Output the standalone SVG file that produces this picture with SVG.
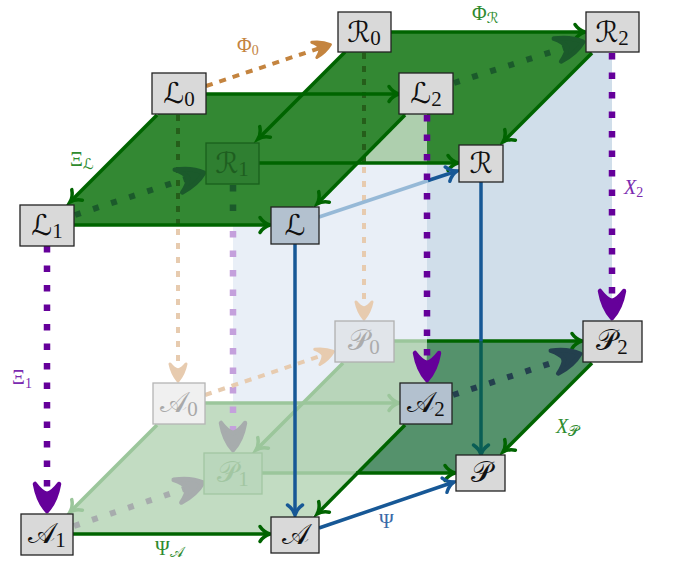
<svg xmlns="http://www.w3.org/2000/svg" width="675" height="561" viewBox="0 0 675 561">
<style>
.box{fill:#d9d9d9;stroke:#222;stroke-width:1.3}
.boxb{fill:#b3c1cf;stroke:#222;stroke-width:1.3}
.t{font-family:'DejaVu Serif','DejaVu Sans','Noto Sans',serif;font-size:29px;fill:#111;text-anchor:middle}
.sub{font-family:'Liberation Serif',serif;font-size:21px;font-style:normal}
.lab{font-family:'Liberation Serif',serif;font-size:20px}
.ls{font-family:'DejaVu Serif','DejaVu Sans',serif;font-size:15px}
.g{fill:none;stroke:#006400;stroke-width:3.5}
.fg{fill:none;stroke:#9bc69b;stroke-width:3.5}
.bl{fill:none;stroke:#175896;stroke-width:3.5}
.pd{fill:none;stroke:#65009a;stroke-width:6.5;stroke-dasharray:6.5 13}
</style>
<defs>
<path id="chev" d="M-10,-7.5 C-7,-3 -3,-0.8 0,0 C-3,0.8 -7,3 -10,7.5" fill="none" stroke-width="3.5" stroke-linecap="round"/>
<path id="stl" d="M0,0 Q-10,-9 -27,-12 Q-19,-6 -17,0 Q-19,6 -27,12 Q-10,9 0,0 Z" stroke-width="4.5" stroke-linejoin="round"/>
<path id="sts" d="M0,0 Q-7,-6 -17,-8 Q-12,-4 -11,0 Q-12,4 -17,8 Q-7,6 0,0 Z" stroke-width="3" stroke-linejoin="round"/>
<marker id="hG" markerUnits="userSpaceOnUse" viewBox="-15 -15 30 30" markerWidth="30" markerHeight="30" refX="0" refY="0" orient="auto"><use href="#chev" stroke="#006400"/></marker>
<marker id="hF" markerUnits="userSpaceOnUse" viewBox="-15 -15 30 30" markerWidth="30" markerHeight="30" refX="0" refY="0" orient="auto"><use href="#chev" stroke="#9bc69b"/></marker>
<marker id="hB" markerUnits="userSpaceOnUse" viewBox="-15 -15 30 30" markerWidth="30" markerHeight="30" refX="0" refY="0" orient="auto"><use href="#chev" stroke="#175896"/></marker>
<marker id="hT" markerUnits="userSpaceOnUse" viewBox="-15 -15 30 30" markerWidth="30" markerHeight="30" refX="0" refY="0" orient="auto"><use href="#chev" stroke="#0a5e55"/></marker>
<marker id="sP" markerUnits="userSpaceOnUse" viewBox="-40 -20 50 40" markerWidth="50" markerHeight="40" refX="-17" refY="0" orient="auto"><use href="#stl" fill="#65009a" stroke="#65009a"/></marker>
<marker id="sG" markerUnits="userSpaceOnUse" viewBox="-40 -20 50 40" markerWidth="50" markerHeight="40" refX="-17" refY="0" orient="auto"><use href="#stl" fill="#1b5a2b" stroke="#1b5a2b"/></marker>
<marker id="sS" markerUnits="userSpaceOnUse" viewBox="-40 -20 50 40" markerWidth="50" markerHeight="40" refX="-17" refY="0" orient="auto"><use href="#stl" fill="#24404e" stroke="#24404e"/></marker>
<marker id="sY" markerUnits="userSpaceOnUse" viewBox="-40 -20 50 40" markerWidth="50" markerHeight="40" refX="-17" refY="0" orient="auto"><use href="#stl" fill="#a7acad" stroke="#a7acad"/></marker>
<marker id="sO" markerUnits="userSpaceOnUse" viewBox="-30 -15 40 30" markerWidth="40" markerHeight="30" refX="-11" refY="0" orient="auto"><use href="#sts" fill="#c4843f" stroke="#c4843f"/></marker>
<marker id="sE" markerUnits="userSpaceOnUse" viewBox="-30 -15 40 30" markerWidth="40" markerHeight="30" refX="-11" refY="0" orient="auto"><use href="#sts" fill="#e7cbaf" stroke="#e7cbaf"/></marker>
</defs>

<g id="planes">
<rect x="233" y="94" width="194" height="309" fill="#e9eff7"/>
<rect x="427" y="32" width="185" height="310" fill="#d0deea"/>
<polygon points="364,32 612,32 481,163 232,163" fill="#338833"/>
<polygon points="426,94 427,94 427,163 357,163" fill="#aecfae"/>
<polygon points="178,94 426,94 295,225 47,225" fill="#338833"/>
<polygon points="178,403 426,403 295,534 47,534" fill="#c2dcc2"/>
<polygon points="364,341 612,341 481,473 232,473" fill="#b8d5ba"/>
<polygon points="427,341 612,341 481,473 356,473 426,403" fill="#55926c"/>
</g>

<g id="connectors">
<path d="M178,115 V225" fill="none" stroke="#255e1a" stroke-width="4" stroke-dasharray="6 7"/>
<path d="M178,229 V370" fill="none" stroke="#e7cbaf" stroke-width="4" stroke-dasharray="6 8" marker-end="url(#sE)"/>
<path d="M364,53 V163" fill="none" stroke="#255e1a" stroke-width="4" stroke-dasharray="6 7"/>
<path d="M364,167 V308" fill="none" stroke="#e7cbaf" stroke-width="4" stroke-dasharray="6 8" marker-end="url(#sE)"/>
<path d="M233,185 V225" fill="none" stroke="#1b5a2b" stroke-width="6.5" stroke-dasharray="6.5 13"/>
<path d="M233,231 V433" fill="none" stroke="#c4a0dc" stroke-width="6.5" stroke-dasharray="6.5 13" marker-end="url(#sY)"/>
<path d="M205,403 H399" class="fg" marker-end="url(#hF)"/>
<path d="M157,425 L70,512" class="fg" marker-end="url(#hF)"/>
<path d="M343,363 L256,450" class="fg" marker-end="url(#hF)"/>
<path d="M262,473 H356" class="fg"/>
<path d="M356,473 H455" class="g" marker-end="url(#hG)"/>
<path d="M393,341 H427" class="fg"/>
<path d="M427,341 H582" class="g" marker-end="url(#hG)"/>
<path d="M205,395 L323,355" fill="none" stroke="#e7cbaf" stroke-width="4" stroke-dasharray="7 7" marker-end="url(#sE)"/>
<path d="M74,526 L187,488" fill="none" stroke="#a7acad" stroke-width="6" stroke-dasharray="6 13" marker-end="url(#sY)"/>
<path d="M453,395 L564,359" fill="none" stroke="#24404e" stroke-width="6" stroke-dasharray="6 13" marker-end="url(#sS)"/>
<path d="M206,94 H399" class="g" marker-end="url(#hG)"/>
<path d="M391,32 H585" class="g" marker-end="url(#hG)"/>
<path d="M74,225 H270" class="g" marker-end="url(#hG)"/>
<path d="M259,163 H458" class="g" marker-end="url(#hG)"/>
<path d="M345,52 L258,139" class="g" marker-end="url(#hG)"/>
<path d="M157,115 L70,202" class="g" marker-end="url(#hG)"/>
<path d="M405,115 L317,204" class="g" marker-end="url(#hG)"/>
<path d="M592,53 L503,142" class="g" marker-end="url(#hG)"/>
<path d="M73,534 H270" class="g" marker-end="url(#hG)"/>
<path d="M405,425 L317,514" class="g" marker-end="url(#hG)"/>
<path d="M592,363 L503,452" class="g" marker-end="url(#hG)"/>
<path d="M206,86 L320,48" fill="none" stroke="#c4843f" stroke-width="4" stroke-dasharray="7 7" marker-end="url(#sO)"/>
<path d="M75,215 L188,178" fill="none" stroke="#1b5a2b" stroke-width="6" stroke-dasharray="6 13" marker-end="url(#sG)"/>
<path d="M454,83 L567,47" fill="none" stroke="#1b5a2b" stroke-width="6" stroke-dasharray="6 13" marker-end="url(#sG)"/>
<path d="M319,217 L430,180" fill="none" stroke="#96b9d7" stroke-width="3.5"/>
<path d="M428,180.5 L457,171" class="bl" marker-end="url(#hB)"/>
<path d="M319,528 L454,482" class="bl" marker-end="url(#hB)"/>
<path d="M295,244 V515" class="bl" marker-end="url(#hB)"/>
<path d="M481,182 V341" class="bl"/>
<path d="M481,341 V455" fill="none" stroke="#0a5e55" stroke-width="3.5" marker-end="url(#hT)"/>
<path d="M47,246 V494" class="pd" marker-end="url(#sP)"/>
<path d="M427,115 V363" class="pd" marker-end="url(#sP)"/>
<path d="M612,53 V301" class="pd" marker-end="url(#sP)"/>
</g>

<g id="labels">
<text class="lab" x="237" y="52" fill="#c4843f">Φ<tspan font-size="14" dy="3">0</tspan></text>
<text class="lab" x="472" y="20" fill="#2e8b2e">Φ<tspan class="ls" dy="3">ℛ</tspan></text>
<text class="lab" x="70" y="166" fill="#2e8b2e">Ξ<tspan class="ls" dy="3">ℒ</tspan></text>
<text class="lab" x="624" y="194" fill="#7b2ab0" font-style="italic">X<tspan font-size="14" font-style="normal" dy="3">2</tspan></text>
<text class="lab" x="12" y="384" fill="#7b2ab0">Ξ<tspan font-size="14" dy="4">1</tspan></text>
<text class="lab" x="556" y="433" fill="#2e8b2e" font-style="italic">X<tspan class="ls" font-style="normal" dy="3">𝒫</tspan></text>
<text class="lab" x="379" y="528" fill="#3a6aa8">Ψ</text>
<text class="lab" x="155" y="555" fill="#2e8b2e">Ψ<tspan class="ls" font-size="12" dy="2">𝒜</tspan></text>
</g>

<g id="node-R1"><rect x="206" y="143" width="53" height="41" fill="#2f7f31" stroke="#1a601c" stroke-width="1.3"/><text class="t" x="232" y="173" style="fill:#1e5e20">ℛ<tspan class="sub" dy="3">1</tspan></text></g>
<g id="node-A0"><rect x="153" y="383" width="52" height="41" fill="#f0f0f0" stroke="#b4b4b4" stroke-width="1.3"/><text class="t" x="179" y="412" style="fill:#a9a9a9">𝒜<tspan class="sub" dy="4">0</tspan></text></g>
<g id="node-P0"><rect x="335" y="321" width="59" height="41" fill="#e1e5ea" stroke="#b0b0b0" stroke-width="1.3"/><text class="t" x="364" y="350" style="fill:#acacac">𝒫<tspan class="sub" dy="4">0</tspan></text></g>
<g id="node-P1"><rect x="204" y="453" width="58" height="41" fill="#bad7bc" stroke="#a2c6a2" stroke-width="1.3"/><text class="t" x="233" y="482" style="fill:#a2c6a2">𝒫<tspan class="sub" dy="4">1</tspan></text></g>

<g id="node-R0"><rect class="box" x="338" y="12" width="53" height="40"/><text class="t" x="364" y="42">ℛ<tspan class="sub" dy="3">0</tspan></text></g>
<g id="node-R2"><rect class="box" x="586" y="12" width="53" height="40"/><text class="t" x="612" y="42">ℛ<tspan class="sub" dy="3">2</tspan></text></g>
<g id="node-L0"><rect class="box" x="152" y="73" width="54" height="41"/><text class="t" x="179" y="103">ℒ<tspan class="sub" dy="3">0</tspan></text></g>
<g id="node-L2"><rect class="box" x="399" y="73" width="54" height="41"/><text class="t" x="426" y="103">ℒ<tspan class="sub" dy="3">2</tspan></text></g>
<g id="node-R"><rect class="box" x="459" y="145" width="44" height="37"/><text class="t" x="481" y="173">ℛ</text></g>
<g id="node-L1"><rect class="box" x="20" y="205" width="54" height="41"/><text class="t" x="47" y="235">ℒ<tspan class="sub" dy="3">1</tspan></text></g>
<g id="node-L"><rect class="boxb" x="271" y="207" width="48" height="37"/><text class="t" x="295" y="235">ℒ</text></g>
<g id="node-P2"><rect class="box" x="583" y="321" width="59" height="41"/><text class="t" x="612" y="350">𝒫<tspan class="sub" dy="4">2</tspan></text></g>
<g id="node-A2"><rect class="boxb" x="400" y="383" width="52" height="41"/><text class="t" x="426" y="412">𝒜<tspan class="sub" dy="4">2</tspan></text></g>
<g id="node-P"><rect class="box" x="456" y="455" width="49" height="36"/><text class="t" x="481" y="482">𝒫</text></g>
<g id="node-A1"><rect class="box" x="21" y="514" width="52" height="41"/><text class="t" x="47" y="543">𝒜<tspan class="sub" dy="4">1</tspan></text></g>
<g id="node-A"><rect class="box" x="271" y="517" width="48" height="36"/><text class="t" x="295" y="544">𝒜</text></g>
</svg>
